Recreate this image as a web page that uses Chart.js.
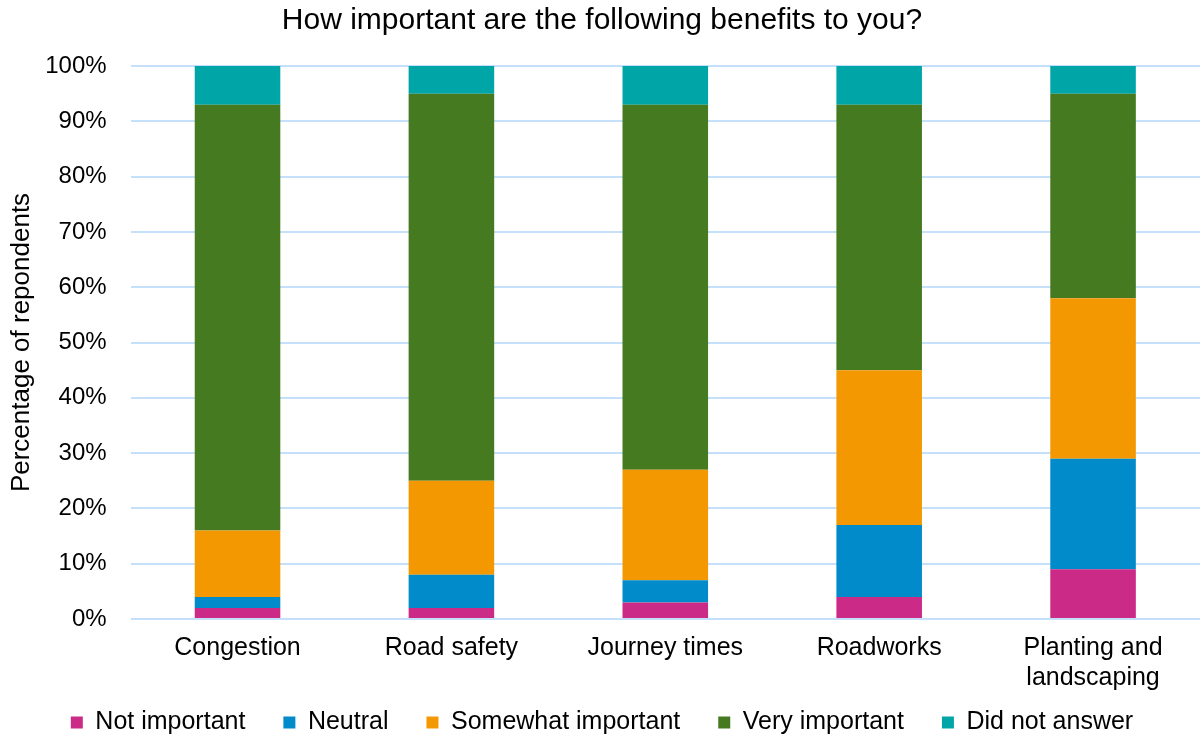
<!DOCTYPE html>
<html>
<head>
<meta charset="utf-8">
<script src="https://cdn.jsdelivr.net/npm/chart.js@4"></script>
<style>
  html, body { margin: 0; padding: 0; background: #ffffff; }
  #wrap { width: 1200px; height: 742px; position: relative; }
</style>
</head>
<body>
<div id="wrap"><canvas id="benefitsChart"></canvas></div>
<script>
const categories = ["Congestion", "Road safety", "Journey times", "Roadworks", ["Planting and", "landscaping"]];
const notImportant = [2, 2, 3, 4, 9];
const neutral = [2, 6, 4, 13, 20];
const somewhatImportant = [12, 17, 20, 28, 29];
const veryImportant = [77, 70, 66, 48, 37];
const didNotAnswer = [7, 5, 7, 7, 5];

const font = "'Liberation Sans', Arial, sans-serif";

const makeSet = (label, data, color) => ({
  label: label,
  data: data,
  backgroundColor: color,
  borderWidth: 0,
  barPercentage: 0.4,
  categoryPercentage: 1,
});

// legend keeps wide gaps between items but sits closer to the axis labels
const liftLegend = {
  id: "liftLegend",
  afterLayout(chart) {
    chart.legend.top -= 19;
    chart.legend.bottom -= 19;
  },
};

const ctx = document.getElementById("benefitsChart");
new Chart(ctx, {
  type: "bar",
  data: {
    labels: categories,
    datasets: [
      makeSet("Not important", notImportant, "#cc2a87"),
      makeSet("Neutral", neutral, "#028bca"),
      makeSet("Somewhat important", somewhatImportant, "#f39800"),
      makeSet("Very important", veryImportant, "#457a21"),
      makeSet("Did not answer", didNotAnswer, "#00a5a8"),
    ],
  },
  plugins: [liftLegend],
  options: {
    responsive: true,
    maintainAspectRatio: false,
    animation: false,
    layout: { padding: { left: 4, right: 0, top: 0, bottom: -22 } },
    plugins: {
      title: {
        display: true,
        text: "How important are the following benefits to you?",
        color: "#000000",
        font: { family: font, size: 30, weight: "normal" },
        padding: { top: 3, bottom: 27 },
      },
      legend: {
        position: "bottom",
        labels: {
          color: "#000000",
          font: { family: font, size: 25 },
          boxWidth: 12,
          boxHeight: 12,
          padding: 38,
        },
      },
      tooltip: { enabled: false },
    },
    scales: {
      x: {
        stacked: true,
        grid: { display: false },
        border: { display: false },
        ticks: {
          color: "#000000",
          font: { family: font, size: 25 },
          padding: 6,
          maxRotation: 0,
        },
        afterFit: function (scale) {
          scale.height = 72;
        },
      },
      y: {
        stacked: true,
        min: 0,
        max: 100,
        title: {
          display: true,
          text: "Percentage of repondents",
          color: "#000000",
          font: { family: font, size: 26 },
          padding: { top: 2, bottom: -16 },
        },
        grid: { color: "#c4e0fa", lineWidth: 2, drawTicks: false },
        border: { display: false },
        ticks: {
          stepSize: 10,
          color: "#000000",
          font: { family: font, size: 24 },
          padding: 24,
          callback: function (value) {
            return value + "%";
          },
        },
      },
    },
  },
});
</script>
</body>
</html>
